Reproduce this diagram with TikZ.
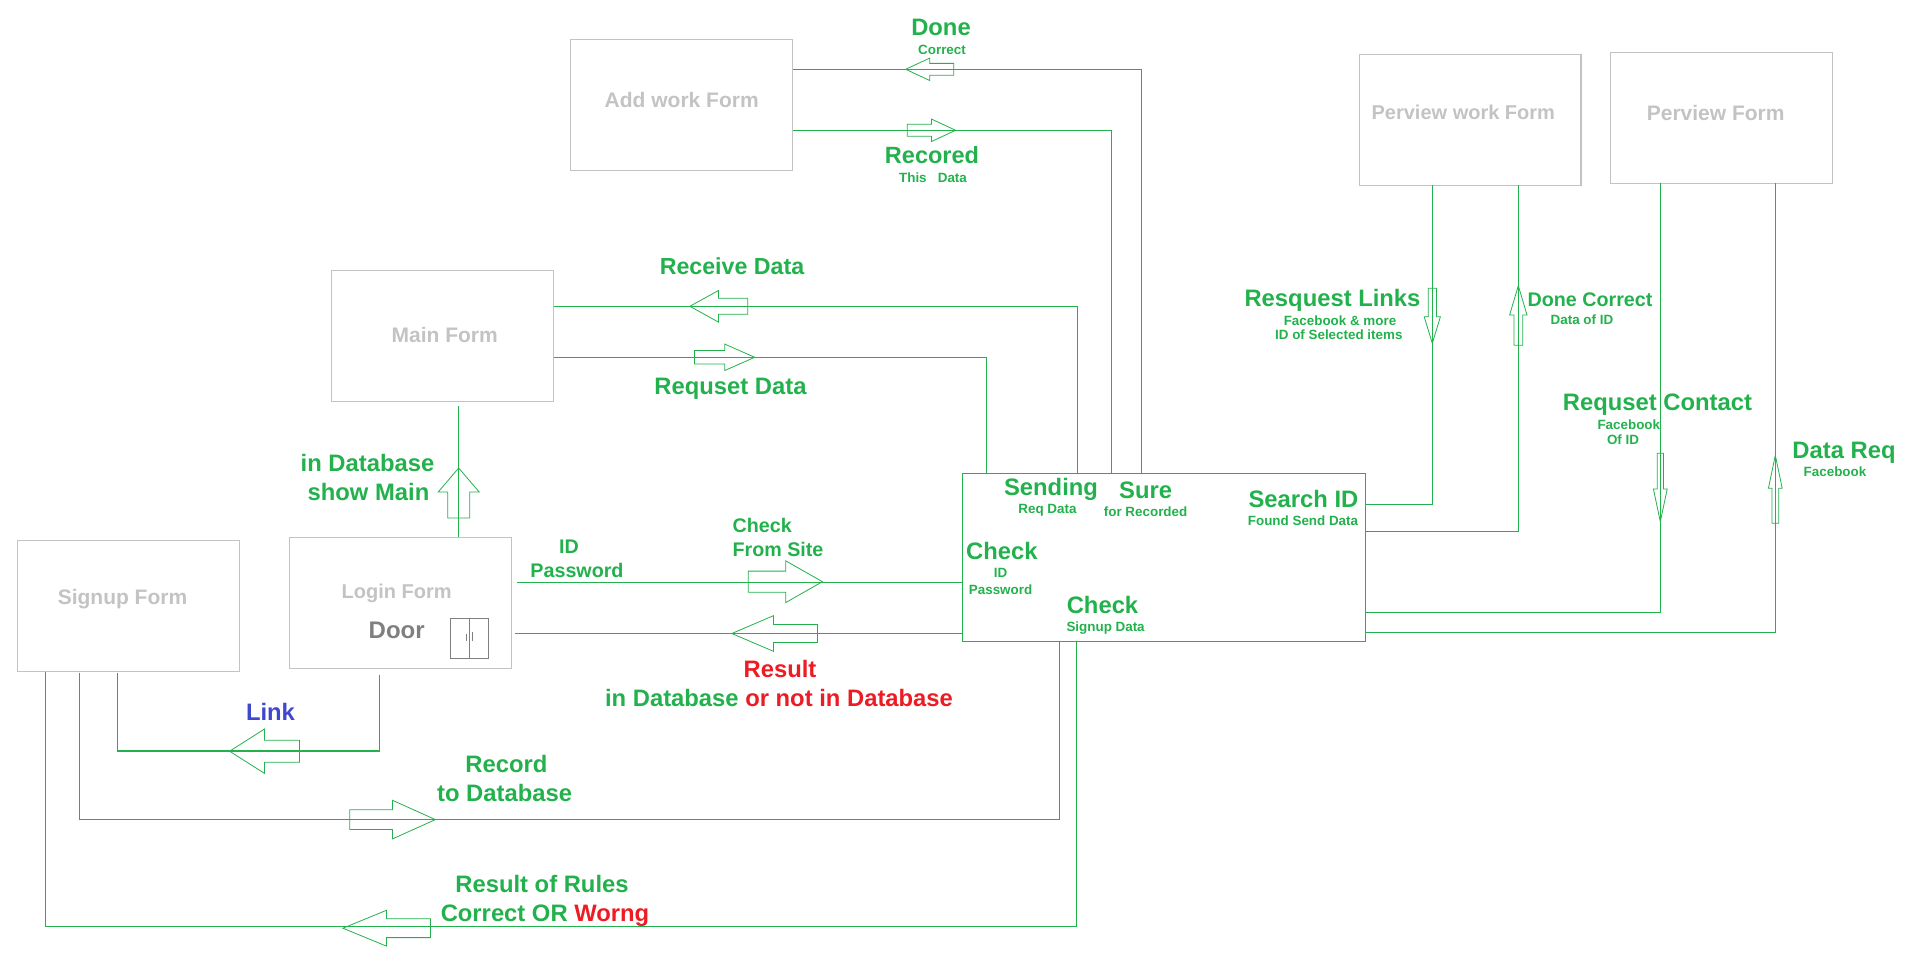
\documentclass[tikz,border=0pt]{standalone}
\usepackage{fontspec}
\setmainfont{Liberation Sans}
\definecolor{gline}{HTML}{22B14C}
\definecolor{gbox}{HTML}{C3C3C3}
\definecolor{rtxt}{HTML}{ED1C24}
\definecolor{btxt}{HTML}{3F48CC}
\definecolor{dtxt}{HTML}{7F7F7F}
\newcommand\fsz[1]{\fontsize{#1}{#1}\selectfont\bfseries}
\tikzset{
  formbox/.style={draw=gbox,line width=1.1pt,minimum width=221.6pt,minimum height=131pt,inner sep=0pt,anchor=north west},
  txtbase/.style={inner sep=0pt,text height=#1*.9pt,text depth=#1*.18pt,font=\fsz{#1}},
  formtxt/.style={text=gbox,txtbase=#1},
  formtxt/.default=21,
  big/.style={text=gline,txtbase=#1},
  big/.default=23.8,
  mid/.style={text=gline,txtbase=19.7},
  small/.style={text=gline,txtbase=13.4},
  link/.style={draw=gline,line width=1.1pt},
  blockarr/.style={draw=gline,line width=.8pt,line join=miter}
}
% horizontal block arrow: tip x, y, head base x, tail x, wing half height, shaft half height
\newcommand\hblock[6]{\draw[blockarr] (#1,#2) -- (#3,#2-#5) -- (#3,#2-#6) -- (#4,#2-#6) -- (#4,#2+#6) -- (#3,#2+#6) -- (#3,#2+#5) -- cycle;}
% vertical block arrow: x, tip y, head base y, tail y, wing half width, shaft half width
\newcommand\vblock[6]{\draw[blockarr] (#1,#2) -- (#1-#5,#3) -- (#1-#6,#3) -- (#1-#6,#4) -- (#1+#6,#4) -- (#1+#6,#3) -- (#1+#5,#3) -- cycle;}
\begin{document}
\begin{tikzpicture}[x=1pt,y=-1pt]
\useasboundingbox (0,0) rectangle (1920,976);
% forms
\node[formbox] (addform) at (570.3,39.3) {};
\node[formbox] (mainform) at (331.3,270.3) {};
\node[formbox] (loginform) at (289.3,537.3) {};
\node[formbox] (signupform) at (17.3,540.3) {};
\node[formbox] (pwork) at (1358.8,54.3) {};
\node[formbox] (pform) at (1610.3,52.3) {};
\node[draw=gline,line width=1.1pt,minimum width=403.7pt,minimum height=168pt,inner sep=0pt,anchor=north west] (site) at (961.5,473.3) {};
\node[formtxt] (t1) at (681.7,100) {Add work Form};
\node[formtxt] (t2) at (444.7,335) {Main Form};
\node[formtxt=20] (t3) at (396.7,591) {Login Form};
\node[formtxt] (t4) at (122.5,597) {Signup Form};
\node[formtxt=20] (t5) at (1463.3,112.7) {Perview work Form};
\node[formtxt] (t6) at (1715.7,112.7) {Perview Form};
\node[big=24,text=dtxt] (door) at (396.7,630) {Door};
% door icon
\draw[dtxt,line width=1pt] (450.3,618.3) rectangle (488.7,658.3);
\draw[dtxt,line width=1pt] (469.3,618.3) -- (469.3,658.3);
\draw[dtxt,line width=.8pt] (466.3,634) -- (466.3,640.7) (472.3,632) -- (472.3,640.7);
% free ends and corners
\coordinate (mainstub) at (458.5,406);
\coordinate (idstart) at (516.8,582.4);
\coordinate (resstart) at (515,633.5);
\coordinate (linkstart) at (379.7,674.6);
\coordinate (linkcorner) at (379.7,751);
\coordinate (linkturn) at (117.6,751);
\coordinate (linkend) at (117.6,672.5);
\coordinate (recstart) at (79.6,672.5);
\coordinate (recturn) at (79.6,819.3);
\coordinate (reccorner) at (1059.4,819.3);
\coordinate (recend) at (1059.4,641.3);
\coordinate (rulestart) at (45.3,671.5);
\coordinate (ruleturn) at (45.3,926.8);
\coordinate (rulecorner) at (1076.3,926.8);
\coordinate (ruleend) at (1076.3,641.3);
\coordinate (a1) at (792,69.5);
\coordinate (a2) at (792,130.3);
\coordinate (m1) at (553,306.3);
\coordinate (m2) at (553,357.3);
\coordinate (s1) at (1141.4,473.3);
\coordinate (s2) at (1111.8,473.3);
\coordinate (s3) at (1077.4,473.3);
\coordinate (s4) at (986.8,473.3);
\coordinate (r1) at (1365.2,504.3);
\coordinate (r2) at (1365.2,531.3);
\coordinate (r3) at (1365.2,612.3);
\coordinate (r4) at (1365.2,632.3);
\coordinate (p1) at (1432.3,185.3);
\coordinate (p2) at (1518.3,185.3);
\coordinate (p3) at (1660.3,183.3);
\coordinate (p4) at (1775.3,183.3);
% connectors
\draw[link] (addform.east |- a1) -| (s1);
\draw[link] (addform.east |- a2) -| (s2);
\draw[link] (mainform.east |- m1) -| (s3);
\draw[link] (mainform.east |- m2) -| (s4);
\draw[link] (mainstub) -- (loginform.north -| mainstub);
\draw[link] (idstart) -- (site.west |- idstart);
\draw[link] (resstart) -- (site.west |- resstart);
\draw[link] (linkstart) -- (linkcorner) -- (linkturn) -- (linkend);
\draw[link] (recstart) -- (recturn) -- (reccorner) -- (recend);
\draw[link] (rulestart) -- (ruleturn) -- (rulecorner) -- (ruleend);
\draw[link] (r1) -| (p1);
\draw[link] (r2) -| (p2);
\draw[link] (r3) -| (p3);
\draw[link] (r4) -| (p4);
% block arrows
\hblock{905.6}{69.3}{929.7}{953.8}{11.2}{5.9}
\hblock{955.6}{130.3}{931.5}{907.3}{11.2}{6}
\hblock{689.8}{306.3}{718.5}{747.8}{15.8}{8}
\hblock{754.7}{357.3}{724.8}{694.4}{13.2}{6.7}
\hblock{822.4}{581.7}{785.7}{748.3}{20.9}{10.6}
\hblock{731.8}{633.5}{773.4}{817.5}{17.8}{9}
\hblock{229.6}{751.2}{264.5}{299.4}{22.2}{11}
\hblock{435.4}{819.6}{392.5}{349.7}{19.3}{9.8}
\hblock{342.9}{928.2}{386.4}{430.5}{17.9}{9.4}
\vblock{458.7}{468}{492}{518}{20.5}{11}
\vblock{1432.3}{343.3}{316.7}{288.3}{8.1}{4.1}
\vblock{1518.3}{285.7}{315}{345.3}{8.7}{4.4}
\vblock{1660.3}{521.7}{489}{453.3}{6.9}{3.1}
\vblock{1775.3}{455.3}{488.3}{523.3}{6.9}{3.4}
% labels
\node[big] (l1) at (941,27) {Done};
\node[small] (l2) at (942,49.5) {Correct};
\node[big=23.5] (l3) at (932,155) {Recored};
\node[small] (l4) at (933,177.5) {This\ \ \ Data};
\node[big=23.2] (l5) at (732,266) {Receive Data};
\node[big] (l6) at (730.5,386) {Requset Data};
\node[big] (l7) at (367.5,463) {in Database};
\node[big] (l8) at (368.5,492) {show Main};
\node[mid] (l9) at (569,546) {ID};
\node[mid] (l10) at (577,570) {Password};
\node[mid,anchor=west] (l11) at (732.4,525.7) {Check};
\node[mid,anchor=west] (l12) at (732.4,549.4) {From Site};
\node[big,text=rtxt] (l13) at (780,669) {Result};
\node[big] (l14) at (779,698.4) {in Database \textcolor{rtxt}{or not in Database}};
\node[big,text=btxt] (l15) at (270.5,712) {Link};
\node[big] (l16) at (506.4,764) {Record};
\node[big] (l17) at (504.6,793) {to Database};
\node[big] (l18) at (542,884) {Result of Rules};
\node[big] (l19) at (545,913) {Correct OR \textcolor{rtxt}{Worng}};
\node[big] (l20) at (1051,487) {Sending};
\node[small] (l21) at (1047.5,509) {Req Data};
\node[big] (l22) at (1145.6,490) {Sure};
\node[small] (l23) at (1145.6,512) {for Recorded};
\node[big] (l24) at (1303.5,499) {Search ID};
\node[small] (l25) at (1303,521) {Found Send Data};
\node[big] (l26) at (1001.9,550.7) {Check};
\node[small] (l27) at (1000.6,573) {ID};
\node[small] (l28) at (1000.6,589.3) {Password};
\node[big] (l29) at (1102.5,605) {Check};
\node[small] (l30) at (1105.6,627) {Signup Data};
\node[big] (l31) at (1332.5,298) {Resquest Links};
\node[small] (l32) at (1340,320.7) {Facebook \& more};
\node[small] (l33) at (1338.8,334.3) {ID of Selected items};
\node[mid] (l34) at (1590,299) {Done Correct};
\node[small] (l35) at (1582,319.3) {Data of ID};
\node[big] (l36) at (1657.5,402) {Requset Contact};
\node[small] (l37) at (1628.8,424.3) {Facebook};
\node[small] (l38) at (1623,440) {Of ID};
\node[big] (l39) at (1844,450) {Data Req};
\node[small] (l40) at (1835,472) {Facebook};
\end{tikzpicture}
\end{document}
